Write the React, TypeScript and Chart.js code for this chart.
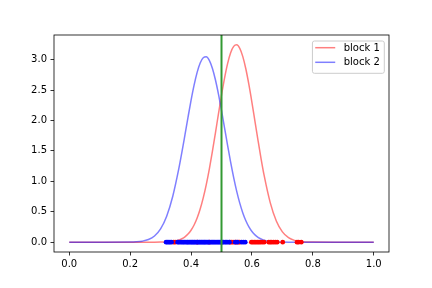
import React, { useEffect, useRef } from "react";
import { Chart, registerables } from "chart.js";

Chart.register(...registerables);

const X_GRID = [
  0, 0.1,
  0.2, 0.22, 0.24, 0.26, 0.28, 0.3, 0.32, 0.34, 0.36,
  0.37, 0.38, 0.39, 0.4, 0.41, 0.42, 0.43, 0.44, 0.45, 0.46,
  0.47, 0.48, 0.49, 0.5, 0.51, 0.52, 0.53, 0.54, 0.55, 0.56,
  0.57, 0.58, 0.59, 0.6, 0.61, 0.62, 0.63,
  0.64, 0.66, 0.68, 0.7, 0.72, 0.74, 0.76, 0.78, 0.8,
  0.9, 1.0,
];

const BLOCK1_CURVE = [
  0, 0,
  0, 0, 0, 0, 0, 0.0012, 0.0041, 0.0127, 0.035,
  0.056, 0.087, 0.132, 0.196, 0.282, 0.397, 0.545, 0.728, 0.947, 1.202,
  1.488, 1.794, 2.108, 2.415, 2.697, 2.935, 3.113, 3.218, 3.243, 3.186,
  3.05, 2.846, 2.588, 2.295, 1.982, 1.67, 1.37,
  1.096, 0.65, 0.348, 0.168, 0.073, 0.029, 0.01, 0.0033, 0.001,
  0, 0,
];

const BLOCK2_CURVE = [
  0, 0,
  0.0018, 0.0056, 0.0163, 0.0426, 0.101, 0.218, 0.426, 0.754, 1.211,
  1.479, 1.763, 2.051, 2.329, 2.58, 2.79, 2.944, 3.032, 3.047, 2.988,
  2.859, 2.67, 2.434, 2.164, 1.878, 1.591, 1.315, 1.061, 0.835, 0.641,
  0.481, 0.352, 0.251, 0.175, 0.119, 0.079, 0.051,
  0.032, 0.012, 0.004, 0.001, 0, 0, 0, 0, 0,
  0, 0,
];

// sample points shown along y = 0
const BLOCK1_SAMPLES = [
  0.343, 0.348, 0.42, 0.46, 0.5, 0.528, 0.533, 0.538, 0.545, 0.55, 0.556,
  0.56, 0.598, 0.603, 0.608, 0.613, 0.618, 0.623, 0.628, 0.634, 0.64,
  0.655, 0.66, 0.665, 0.671, 0.677, 0.683, 0.701, 0.748, 0.753,
  0.762,
];

const BLOCK2_SAMPLES = [
  0.318, 0.322, 0.327, 0.331, 0.336, 0.356, 0.36, 0.365, 0.37, 0.374, 0.378,
  0.383, 0.387, 0.39, 0.394, 0.398, 0.402, 0.405, 0.409, 0.412, 0.416,
  0.42, 0.423, 0.427, 0.43, 0.434, 0.437, 0.441, 0.444, 0.447, 0.451,
  0.455, 0.458, 0.462, 0.466, 0.47, 0.474, 0.478, 0.482, 0.486, 0.49,
  0.494, 0.498, 0.503, 0.507, 0.512, 0.516, 0.521, 0.526, 0.545, 0.552,
  0.566, 0.572, 0.578,
];

const THRESHOLD = 0.5;
const SERIES_LABELS = ["block 1", "block 2"];
const X_MIN = -0.05;
const X_MAX = 1.05;
const Y_MIN = -0.162;
const Y_MAX = 3.405;
const X_STEP = 0.2;
const Y_STEP = 0.5;

const FONT = "'DejaVu Sans', sans-serif";
const RED = "rgba(255,0,0,0.5)";
const BLUE = "rgba(0,0,255,0.5)";

const framePlugin = {
  id: "frameAndLegend",
  afterDraw(chart: any) {
    const { ctx, chartArea } = chart;
    ctx.save();
    ctx.strokeStyle = "#000";
    ctx.lineWidth = 0.8;
    ctx.strokeRect(
      chartArea.left,
      chartArea.top,
      chartArea.right - chartArea.left,
      chartArea.bottom - chartArea.top
    );

    // legend inside the axes, upper right
    ctx.font = `10px ${FONT}`;
    const textW = Math.max(...SERIES_LABELS.map((t) => ctx.measureText(t).width));
    const lineLen = 20;
    const padL = 2.8;
    const gap = 8.5;
    const padR = 4.5;
    const rowH = 14.6;
    const boxW = padL + lineLen + gap + textW + padR;
    const boxH = 32.3;
    const right = chartArea.right - 4.7;
    const top = chartArea.top + 6;
    const left = right - boxW;
    const r = 2;
    ctx.beginPath();
    ctx.moveTo(left + r, top);
    ctx.lineTo(right - r, top);
    ctx.quadraticCurveTo(right, top, right, top + r);
    ctx.lineTo(right, top + boxH - r);
    ctx.quadraticCurveTo(right, top + boxH, right - r, top + boxH);
    ctx.lineTo(left + r, top + boxH);
    ctx.quadraticCurveTo(left, top + boxH, left, top + boxH - r);
    ctx.lineTo(left, top + r);
    ctx.quadraticCurveTo(left, top, left + r, top);
    ctx.closePath();
    ctx.fillStyle = "rgba(255,255,255,0.8)";
    ctx.fill();
    ctx.strokeStyle = "#cccccc";
    ctx.lineWidth = 1;
    ctx.stroke();

    const colors = [RED, BLUE];
    SERIES_LABELS.forEach((label, i) => {
      const cy = top + 6.7 + i * rowH;
      ctx.beginPath();
      ctx.strokeStyle = colors[i];
      ctx.lineWidth = 1.5;
      ctx.moveTo(left + padL, cy);
      ctx.lineTo(left + padL + lineLen, cy);
      ctx.stroke();
      ctx.fillStyle = "#000";
      ctx.textBaseline = "middle";
      ctx.textAlign = "left";
      ctx.fillText(label, left + padL + lineLen + gap, cy + 0.5);
    });
    ctx.restore();
  },
};

export default function App() {
  const canvasRef = useRef<HTMLCanvasElement | null>(null);

  useEffect(() => {
    document.body.style.margin = "0";
    const canvas = canvasRef.current;
    if (!canvas) return;

    const curve1 = X_GRID.map((x, i) => ({ x, y: BLOCK1_CURVE[i] }));
    const curve2 = X_GRID.map((x, i) => ({ x, y: BLOCK2_CURVE[i] }));
    const dots1 = BLOCK1_SAMPLES.map((x) => ({ x, y: 0 }));
    const dots2 = BLOCK2_SAMPLES.map((x) => ({ x, y: 0 }));
    const vline = [
      { x: THRESHOLD, y: Y_MIN },
      { x: THRESHOLD, y: Y_MAX },
    ];

    const chart = new Chart(canvas, {
      type: "scatter",
      data: {
        datasets: [
          {
            label: SERIES_LABELS[0],
            data: curve1,
            showLine: true,
            borderColor: RED,
            borderWidth: 1.5,
            pointRadius: 0,
            cubicInterpolationMode: "monotone",
            order: 5,
          },
          {
            label: SERIES_LABELS[1],
            data: curve2,
            showLine: true,
            borderColor: BLUE,
            borderWidth: 1.5,
            pointRadius: 0,
            cubicInterpolationMode: "monotone",
            order: 4,
          },
          {
            label: "samples 1",
            data: dots1,
            showLine: false,
            pointRadius: 2.4,
            pointBorderWidth: 0,
            backgroundColor: "#ff0000",
            borderColor: "#ff0000",
            order: 3,
          },
          {
            label: "samples 2",
            data: dots2,
            showLine: false,
            pointRadius: 2.4,
            pointBorderWidth: 0,
            backgroundColor: "#0000ff",
            borderColor: "#0000ff",
            order: 2,
          },
          {
            label: "threshold",
            data: vline,
            showLine: true,
            borderColor: "#339933",
            borderWidth: 2,
            pointRadius: 0,
            order: 1,
          },
        ],
      } as any,
      options: {
        animation: false,
        responsive: false,
        maintainAspectRatio: false,
        layout: { padding: { left: 0, top: 35, right: 43, bottom: 0 } },
        plugins: {
          legend: { display: false },
          tooltip: { enabled: false },
        },
        scales: {
          x: {
            type: "linear",
            min: X_MIN,
            max: X_MAX,
            border: { display: false },
            grid: {
              drawOnChartArea: false,
              drawTicks: true,
              tickLength: 3.5,
              tickColor: "#000",
              lineWidth: 0.8,
            },
            ticks: {
              stepSize: X_STEP,
              includeBounds: false,
              maxRotation: 0,
              padding: 3,
              color: "#000",
              font: { family: FONT, size: 10 },
              callback: (v: any) => Number(v).toFixed(1),
            },
            afterFit: (s: any) => {
              s.height = 36;
            },
          },
          y: {
            type: "linear",
            min: Y_MIN,
            max: Y_MAX,
            border: { display: false },
            grid: {
              drawOnChartArea: false,
              drawTicks: true,
              tickLength: 3.5,
              tickColor: "#000",
              lineWidth: 0.8,
            },
            ticks: {
              stepSize: Y_STEP,
              includeBounds: false,
              padding: 3.5,
              color: "#000",
              font: { family: FONT, size: 10 },
              callback: (v: any) => Number(v).toFixed(1),
            },
            afterFit: (s: any) => {
              s.width = 54;
            },
          },
        },
      } as any,
      plugins: [framePlugin],
    });

    return () => chart.destroy();
  }, []);

  return (
    <div style={{ position: "absolute", left: 0, top: 0, width: 432, height: 288, background: "#fff" }}>
      <canvas ref={canvasRef} width={432} height={288} />
    </div>
  );
}
